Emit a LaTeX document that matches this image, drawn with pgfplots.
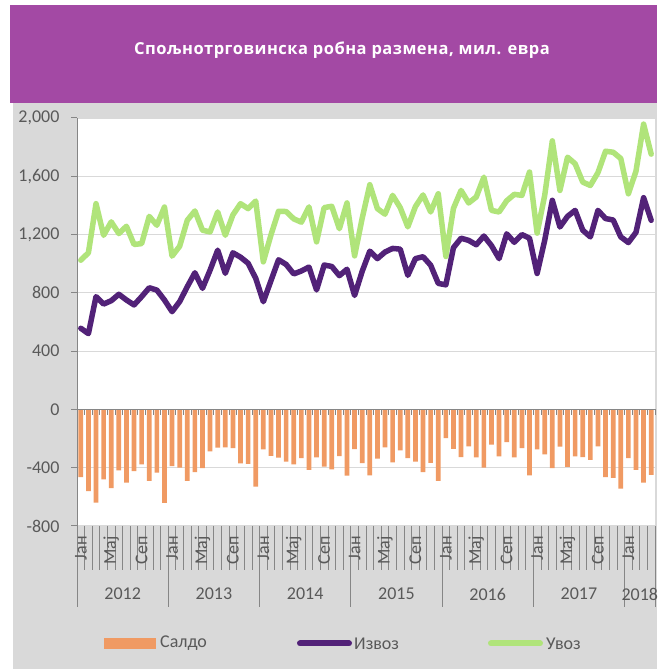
\documentclass[border=0pt]{standalone}
\usepackage{fontspec}
\setmainfont{Carlito}
\newfontfamily\titlefont{Open Sans}[LetterSpace=3.0]
\usepackage{pgfplots}
\usepackage{pgfplotstable}
\pgfplotsset{compat=1.18}
\definecolor{titlebg}{RGB}{163,73,164}
\definecolor{bgrey}{RGB}{217,217,217}
\definecolor{saldo}{RGB}{240,154,99}
\definecolor{izvoz}{RGB}{82,34,120}
\definecolor{uvoz}{RGB}{176,228,122}
\definecolor{axgrey}{RGB}{134,134,134}
\definecolor{txtgrey}{RGB}{89,89,89}
\definecolor{gridgrey}{RGB}{217,217,217}
\definecolor{dotgrey}{RGB}{200,200,200}

\pgfplotstableread{
i saldo izvoz uvoz
0 -464 557 1024
1 -560 520 1075
2 -640 774 1412
3 -480 723 1195
4 -540 746 1287
5 -418 790 1207
6 -503 751 1257
7 -423 717 1132
8 -377 774 1138
9 -491 835 1325
10 -434 819 1264
11 -642 751 1389
12 -389 671 1052
13 -400 740 1120
14 -491 842 1298
15 -430 938 1362
16 -402 831 1230
17 -288 956 1218
18 -263 1093 1355
19 -261 934 1195
20 -265 1075 1335
21 -370 1045 1412
22 -373 1003 1378
23 -530 900 1430
24 -274 739 1013
25 -318 883 1197
26 -331 1027 1360
27 -359 995 1358
28 -377 930 1308
29 -334 950 1285
30 -414 977 1390
31 -329 820 1150
32 -393 991 1385
33 -411 981 1394
34 -320 918 1240
35 -455 962 1417
36 -272 782 1054
37 -368 948 1312
38 -453 1086 1542
39 -338 1035 1378
40 -261 1080 1340
41 -363 1105 1469
42 -281 1100 1385
43 -334 920 1253
44 -359 1035 1392
45 -430 1048 1472
46 -366 990 1355
47 -491 865 1480
48 -197 855 1050
49 -270 1110 1380
50 -327 1175 1503
51 -254 1160 1417
52 -329 1130 1458
53 -400 1190 1594
54 -242 1124 1366
55 -322 1035 1355
56 -224 1205 1432
57 -329 1147 1476
58 -265 1200 1469
59 -453 1175 1629
60 -274 933 1210
61 -309 1161 1470
62 -402 1435 1843
63 -256 1252 1503
64 -395 1325 1731
65 -322 1366 1686
66 -327 1230 1560
67 -347 1184 1537
68 -254 1366 1625
69 -464 1310 1772
70 -469 1300 1765
71 -544 1184 1722
72 -334 1145 1480
73 -414 1215 1635
74 -503 1453 1958
75 -450 1298 1752
}\data

\begin{document}
\begin{tikzpicture}[x=1pt,y=1pt]
\useasboundingbox (0,0) rectangle (657,669);
\fill[white] (0,0) rectangle (657,669);
\fill[bgrey] (13,0) rectangle (657,566);
\fill[titlebg] (10,566) rectangle (657,664);
\node[text=white, font=\titlefont\bfseries\fontsize{16.5}{19}\selectfont] at (342,619) {Спољнотрговинска робна размена, мил. евра};

\begin{axis}[at={(77pt,143pt)}, anchor=south west, scale only axis,
  width=578pt, height=408pt,
  xmin=-0.5, xmax=75.5, ymin=-800, ymax=2000,
  axis background/.style={fill=white},
  axis x line=none, axis y line*=left,
  y axis line style={axgrey, line width=1pt},
  ytick={-800,-400,...,2000},
  xtick=\empty,
  minor xtick={-0.5,0.5,...,75.5},
  tick align=outside, major tick length=6pt,
  ytick style={axgrey, line width=1pt},
  ymajorgrids, xminorgrids,
  major grid style={gridgrey, line width=1.2pt},
  minor grid style={dotgrey, densely dotted, line width=0.8pt},
  yticklabel style={font=\fontsize{18}{20}\selectfont, text=txtgrey, xshift=-8pt},
  /pgf/number format/.cd, 1000 sep={,}, assume math mode=true,
]
\addplot[ybar, bar width=4.7pt, fill=saldo, draw=none] table[x=i,y=saldo]{\data};
\addplot[uvoz, line width=5.5pt, line join=round, line cap=round, mark=none] table[x=i,y=uvoz]{\data};
\addplot[izvoz, line width=5.5pt, line join=round, line cap=round, mark=none] table[x=i,y=izvoz]{\data};
\end{axis}

\def\mw{7.60526}
% zero axis line with ticks
\draw[axgrey, line width=1.2pt] (77,259.57) -- (655,259.57);
\foreach \i in {0,...,76} \draw[axgrey, line width=0.8pt] ({77+\i*\mw},259.57) -- ++(0,-6);
% category separators below plot
\foreach \i in {0,...,76} \draw[axgrey, line width=0.8pt] ({77+\i*\mw},143) -- ++(0,-44);
\foreach \i in {0,12,24,36,48,60,72,76} \draw[axgrey, line width=0.8pt] ({77+\i*\mw},143) -- ++(0,-81);
% month labels
\foreach \y in {0,...,6}{
  \foreach \m/\lab in {0/Јан,4/Мај,8/Сеп}{
    \pgfmathtruncatemacro\idx{12*\y+\m}
    \ifnum\idx<76
      \node[rotate=90, anchor=east, inner sep=0pt, text=txtgrey, font=\fontsize{18}{20}\selectfont] at ({77+(\idx+0.5)*\mw},133) {\lab};
    \fi
  }
}
% year labels
\foreach \y/\c in {2012/6,2013/18,2014/30,2015/42,2016/54,2017/66,2018/74}
  \node[text=txtgrey, font=\fontsize{18}{20}\selectfont] at ({77+\c*\mw},75) {\y};
% legend
\fill[saldo] (104,20) rectangle (156,31);
\node[anchor=west, inner sep=0pt, text=txtgrey, font=\fontsize{18}{20}\selectfont] at (160,25.5) {Салдо};
\draw[izvoz, line width=6pt, line cap=round] (300,25.5) -- (349,25.5);
\node[anchor=west, inner sep=0pt, text=txtgrey, font=\fontsize{18}{20}\selectfont] at (354,25.5) {Извоз};
\draw[uvoz, line width=6pt, line cap=round] (491,25.5) -- (540,25.5);
\node[anchor=west, inner sep=0pt, text=txtgrey, font=\fontsize{18}{20}\selectfont] at (546,25.5) {Увоз};
\end{tikzpicture}
\end{document}
